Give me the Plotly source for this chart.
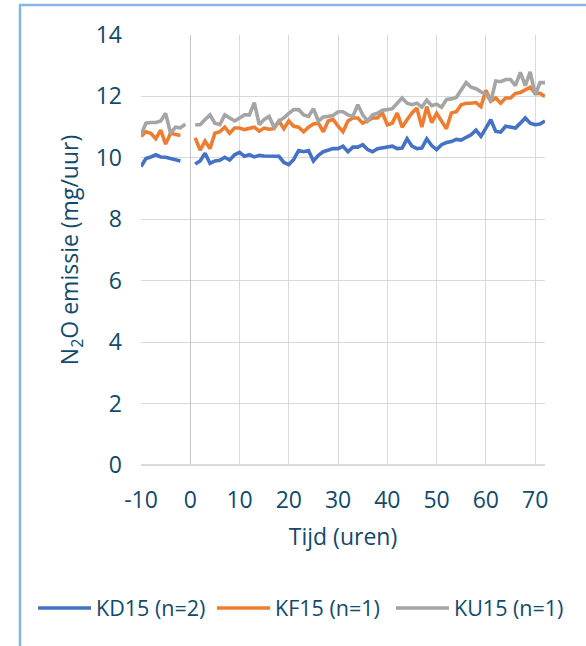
import plotly.graph_objects as go

# Hours relative to the start of the treatment; measurements pause around t = 0
hours_pre = list(range(-10, -1))          # -10 .. -2
hours_pre_ku = list(range(-10, 0))        # -10 .. -1
hours_post = list(range(1, 73))           # 1 .. 72

# N2O emission (mg/uur)
kd15_pre = [9.72, 9.98, 10.03, 10.10, 10.03, 10.02, 9.98, 9.95, 9.90]
kd15_post = [
    9.80, 9.90, 10.15, 9.82, 9.90, 9.92, 10.02, 9.93, 10.10, 10.18,
    10.05, 10.10, 10.03, 10.08, 10.06, 10.06, 10.06, 10.05, 9.85, 9.78,
    9.95, 10.24, 10.20, 10.24, 9.90, 10.08, 10.20, 10.24, 10.30, 10.30,
    10.38, 10.20, 10.35, 10.35, 10.43, 10.27, 10.20, 10.30, 10.33, 10.35,
    10.38, 10.30, 10.32, 10.62, 10.38, 10.30, 10.32, 10.62, 10.40, 10.27,
    10.43, 10.50, 10.53, 10.60, 10.58, 10.67, 10.75, 10.90, 10.70, 10.97,
    11.24, 10.86, 10.84, 11.03, 11.00, 10.97, 11.13, 11.30, 11.13, 11.08,
    11.10, 11.20,
]

kf15_pre = [10.70, 10.85, 10.80, 10.62, 10.90, 10.45, 10.80, 10.75, 10.73]
kf15_post = [
    10.65, 10.25, 10.55, 10.30, 10.80, 10.85, 11.00, 10.80, 10.97, 10.97,
    10.92, 10.95, 11.00, 10.87, 10.97, 10.93, 10.95, 11.20, 10.95, 11.20,
    11.03, 11.00, 10.85, 11.00, 11.10, 11.13, 10.85, 11.20, 11.25, 11.03,
    10.85, 11.20, 11.30, 11.30, 11.13, 11.20, 11.30, 11.30, 11.46, 11.08,
    11.13, 11.46, 11.00, 11.24, 11.46, 11.62, 11.00, 11.67, 11.15, 11.45,
    11.20, 10.95, 11.46, 11.50, 11.73, 11.78, 11.78, 11.80, 11.67, 12.20,
    11.84, 11.95, 11.78, 11.95, 11.95, 12.10, 12.13, 12.20, 12.30, 12.10,
    12.10, 12.00,
]

ku15_pre = [10.75, 11.13, 11.15, 11.15, 11.20, 11.45, 10.80, 11.00, 10.98, 11.10]
ku15_post = [
    11.08, 11.08, 11.25, 11.40, 11.13, 11.08, 11.40, 11.30, 11.20, 11.30,
    11.40, 11.40, 11.80, 11.08, 11.25, 11.35, 11.00, 11.20, 11.30, 11.45,
    11.57, 11.57, 11.40, 11.35, 11.60, 11.20, 11.33, 11.35, 11.38, 11.50,
    11.50, 11.40, 11.35, 11.73, 11.40, 11.20, 11.40, 11.45, 11.55, 11.57,
    11.60, 11.78, 11.95, 11.78, 11.73, 11.78, 11.65, 11.88, 11.70, 11.75,
    11.65, 11.90, 11.92, 11.97, 12.20, 12.45, 12.30, 12.25, 12.15, 12.08,
    11.84, 12.50, 12.48, 12.55, 12.55, 12.35, 12.78, 12.35, 12.80, 12.05,
    12.45, 12.45,
]

x_ticks = list(range(-10, 71, 10))
x_labels = [str(v) for v in x_ticks]      # plain hyphen for negatives
y_ticks = list(range(0, 15, 2))
y_labels = [str(v) for v in y_ticks]

series_names = ["KD15 (n=2)", "KF15 (n=1)", "KU15 (n=1)"]
series_colors = ["#4472C4", "#ED7D31", "#A5A5A5"]

TEXT = "#114A6B"
FONT = "Open Sans"


def joined(pre_x, pre_y, post_x, post_y):
    # a None between the two runs leaves the break around t = 0 open
    return pre_x + [None] + post_x, pre_y + [None] + post_y


fig = go.Figure()
for name, color, (xs, ys) in zip(
    series_names,
    series_colors,
    [
        joined(hours_pre, kd15_pre, hours_post, kd15_post),
        joined(hours_pre, kf15_pre, hours_post, kf15_post),
        joined(hours_pre_ku, ku15_pre, hours_post, ku15_post),
    ],
):
    fig.add_trace(
        go.Scatter(
            x=xs, y=ys, name=name, mode="lines",
            line=dict(color=color, width=3.6),
            connectgaps=False,
        )
    )

# plot area in pixels: x 141..545, y 35..465
L, R, T, B = 141, 41, 35, 181
PW, PH = 586 - L - R, 646 - T - B


def px(xpix):
    return (xpix - L) / PW


def py(ypix):
    return (646 - B - ypix) / PH


frame = "#86B6E6"
fig.add_shape(type="line", xref="paper", yref="paper",
              x0=px(20), x1=px(20), y0=py(5), y1=py(700),
              line=dict(color=frame, width=2.5))
fig.add_shape(type="line", xref="paper", yref="paper",
              x0=px(19), x1=px(600), y0=py(5), y1=py(5),
              line=dict(color=frame, width=2.5))

fig.update_layout(
    width=586, height=646,
    margin=dict(l=L, r=R, t=T, b=B),
    paper_bgcolor="white", plot_bgcolor="white",
    font=dict(family=FONT, size=23, color=TEXT),
    showlegend=True,
    legend=dict(
        orientation="h", x=px(33), xanchor="left", y=py(608), yanchor="middle",
        font=dict(size=21.5, color=TEXT), itemwidth=53, tracegroupgap=0,
        entrywidth=111,
    ),
    xaxis=dict(
        range=[-10, 72], tickmode="array", tickvals=x_ticks, ticktext=x_labels,
        showgrid=True, gridcolor="#D9D9D9", gridwidth=1,
        zeroline=True, zerolinecolor="#C4C4C4", zerolinewidth=1.2,
        showline=False, ticks="", ticklabelstandoff=19,
        tickfont=dict(size=23, color=TEXT),
        title=dict(text="Tijd (uren)", font=dict(size=23, color=TEXT), standoff=14),
        fixedrange=True,
    ),
    yaxis=dict(
        range=[0, 14], tickmode="array", tickvals=y_ticks, ticktext=y_labels,
        showgrid=True, gridcolor="#D9D9D9", gridwidth=1,
        zeroline=True, zerolinecolor="#D9D9D9", zerolinewidth=1.5,
        showline=False, ticks="", ticklabelstandoff=18,
        tickfont=dict(size=23, color=TEXT),
        title=dict(text="N<sub>2</sub>O emissie (mg/uur)",
                   font=dict(size=23, color=TEXT), standoff=10),
        fixedrange=True,
    ),
)

fig.write_html("out.html")
